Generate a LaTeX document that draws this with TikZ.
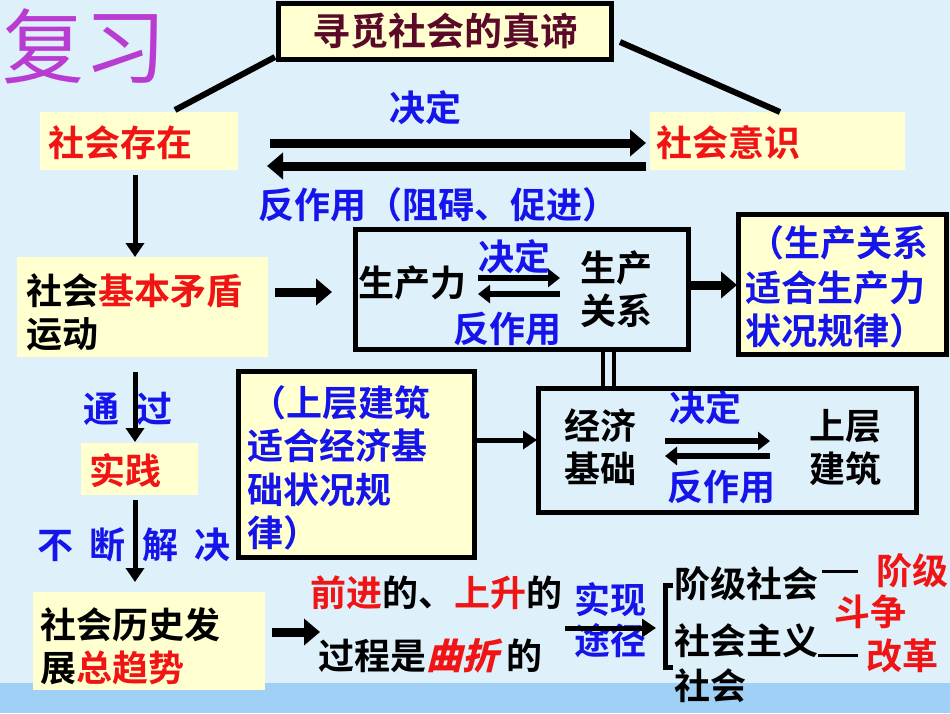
\documentclass[tikz,border=0pt]{standalone}
\usepackage{fontspec}
\setmainfont{Noto Sans CJK SC}[BoldFont={* Bold}]
\newfontfamily\slantcjk{Noto Sans CJK SC Bold}[FakeSlant=0.25]
\usetikzlibrary{arrows.meta}
\definecolor{cream}{RGB}{255,255,208}
\definecolor{bgc}{RGB}{222,240,250}
\definecolor{band}{RGB}{160,208,245}
\definecolor{tblue}{RGB}{20,20,235}
\definecolor{tred}{RGB}{240,20,20}
\definecolor{maroon}{RGB}{90,10,40}
\definecolor{violet}{RGB}{185,60,210}
\begin{document}
\begin{tikzpicture}[x=1pt,y=-1pt,
  txt/.style={font=\fontsize{36}{40}\selectfont\bfseries,inner sep=0pt},
  bt/.style={txt,text=tblue},
  rt/.style={txt,text=tred},
  kt/.style={txt,text=black},
  cbox/.style={fill=cream},
  kbox/.style={draw=black,line width=5pt},
  bigarr/.style={line width=9pt,-{Triangle[length=16pt,width=26pt]}},
  midarr/.style={line width=6pt,-{Triangle[length=12pt,width=18pt]}},
  thinarr/.style={line width=5pt,-{Triangle[length=14pt,width=18pt]}},
  ln/.style={line width=6pt}]
\useasboundingbox (0,0) rectangle (950,713);
\fill[bgc] (0,0) rectangle (950,713);
\fill[band] (0,683) rectangle (950,713);
\node[txt,text=violet,font=\fontsize{82}{82}\selectfont,anchor=west] (fx) at (2,46) {复习};
\node[kbox,cbox,minimum width=333,minimum height=56,text=maroon,txt,font=\fontsize{38}{40}\selectfont\bfseries] (title) at (445,31) {寻觅社会的真谛};
\node[cbox,minimum width=198,minimum height=58] (cz) at (139,141) {};
\node[rt,anchor=west] (czt) at (48,143) {社会存在};
\node[cbox,minimum width=255,minimum height=58] (ys) at (777,141) {};
\node[rt,anchor=west] (yst) at (656,143) {社会意识};
\coordinate (tl) at (275,57); \coordinate (czl) at (175,110);
\coordinate (tr) at (620,42); \coordinate (ysl) at (780,112);
\draw[ln] (tl) -- (czl); \draw[ln] (tr) -- (ysl);
\node[bt] (jd1) at (425,108) {决定};
\coordinate (a1) at (270,143); \coordinate (a2) at (646,143);
\coordinate (a3) at (646,166); \coordinate (a4) at (267,166);
\draw[bigarr] (a1) -- (a2); \draw[bigarr] (a3) -- (a4);
\node[bt] (fzy) at (438,205) {反作用（阻碍、促进）};
\coordinate (d1) at (135,175); \coordinate (d2) at (135,257);
\draw[thinarr] (d1) -- (d2);
\node[cbox,minimum width=251,minimum height=100] (mdbox) at (142,307) {};
\node[kt,anchor=west] (md1) at (26,291) {社会\textcolor{tred}{基本矛盾}};
\node[kt,anchor=west] (md2) at (26,334) {运动};
\coordinate (b1) at (275,292); \coordinate (b2) at (332,292);
\draw[bigarr] (b1) -- (b2);
\node[kbox,minimum width=333,minimum height=120] (scbox) at (522,289) {};
\node[kt] (scl) at (412,283) {生产力};
\node[bt] (jd2) at (514,257) {决定};
\coordinate (c1) at (478,278); \coordinate (c2) at (560,278);
\coordinate (c3) at (560,294); \coordinate (c4) at (478,294);
\draw[midarr] (c1) -- (c2); \draw[midarr] (c3) -- (c4);
\node[bt] (fzy2) at (507,329) {反作用};
\node[kt] (sc1) at (616,268) {生产};
\node[kt] (sc2) at (616,311) {关系};
\coordinate (e1) at (690,285); \coordinate (e2) at (737,285);
\draw[bigarr] (e1) -- (e2);
\node[kbox,cbox,minimum width=208,minimum height=140] (glbox) at (842,284) {};
\node[bt,anchor=west] (g1) at (748,243) {（生产关系};
\node[bt,anchor=west] (g2) at (745,288) {适合生产力};
\node[bt,anchor=west] (g3) at (745,331) {状况规律）};
\coordinate (v1) at (603,350); \coordinate (v2) at (603,387);
\coordinate (v3) at (614,350); \coordinate (v4) at (614,387);
\draw[line width=4pt] (v1) -- (v2); \draw[line width=4pt] (v3) -- (v4);
\node[kbox,cbox,minimum width=236,minimum height=186] (sjbox) at (356,464) {};
\node[bt,anchor=west] (s1) at (250,403) {（上层建筑};
\node[bt,anchor=west] (s2) at (247,446) {适合经济基};
\node[bt,anchor=west] (s3) at (247,490) {础状况规};
\node[bt,anchor=west] (s4) at (247,533) {律）};
\coordinate (f1) at (476,440); \coordinate (f2) at (537,440);
\draw[thinarr] (f1) -- (f2);
\node[kbox,minimum width=378,minimum height=124] (jjbox) at (727,450) {};
\node[kt] (j1) at (600,426) {经济};
\node[kt] (j2) at (600,469) {基础};
\node[bt] (jd3) at (705,408) {决定};
\coordinate (h1) at (665,441); \coordinate (h2) at (770,441);
\coordinate (h3) at (770,456); \coordinate (h4) at (665,456);
\draw[midarr] (h1) -- (h2); \draw[midarr] (h3) -- (h4);
\node[bt] (fzy3) at (721,487) {反作用};
\node[kt] (u1) at (845,426) {上层};
\node[kt] (u2) at (845,469) {建筑};
\node[bt] (tg) at (128,409) {通\ \ 过};
\coordinate (k1) at (135,372); \coordinate (k2) at (135,442);
\draw[thinarr] (k1) -- (k2);
\node[cbox,minimum width=117,minimum height=52] (sjx) at (139,469) {};
\node[rt] (sjxt) at (125,471) {实践};
\node[bt] (bd) at (134,545) {不\ \ 断\ \ 解\ \ 决};
\coordinate (m1) at (135,500); \coordinate (m2) at (135,582);
\draw[thinarr] (m1) -- (m2);
\node[cbox,minimum width=232,minimum height=98] (lsbox) at (149,641) {};
\node[kt,anchor=west] (l1) at (40,625) {社会历史发};
\node[kt,anchor=west] (l2) at (40,668) {展\textcolor{tred}{总趋势}};
\coordinate (n1) at (272,632); \coordinate (n2) at (320,632);
\draw[bigarr] (n1) -- (n2);
\node[kt,anchor=west] (q1) at (310,593) {\textcolor{tred}{前进}的、\textcolor{tred}{上升}的};
\node[kt,anchor=west] (q2) at (318,656) {过程是\textcolor{tred}{\slantcjk 曲折} 的};
\node[bt] (sx1) at (610,600) {实现};
\node[bt] (sx2) at (610,641) {途径};
\coordinate (p1) at (565,628); \coordinate (p2) at (656,628);
\draw[thinarr] (p1) -- (p2);
\coordinate (br1) at (665,585); \coordinate (br2) at (665,667);
\draw[line width=5pt] ([xshift=8pt]br1) -- (br1) -- (br2) -- ([xshift=8pt]br2);
\node[kt,anchor=west] (r1) at (674,584) {阶级社会};
\node[kt,anchor=west] (r2) at (674,641) {社会主义};
\node[kt,anchor=west] (r3) at (674,686) {社会};
\coordinate (w1) at (822,571); \coordinate (w2) at (858,571);
\coordinate (w3) at (818,655); \coordinate (w4) at (858,655);
\draw[line width=3pt] (w1) -- (w2); \draw[line width=3pt] (w3) -- (w4);
\node[rt,anchor=west] (x1) at (876,571) {阶级};
\node[rt] (x2) at (870,612) {斗争};
\node[rt] (x3) at (902,656) {改革};
\end{tikzpicture}
\end{document}
